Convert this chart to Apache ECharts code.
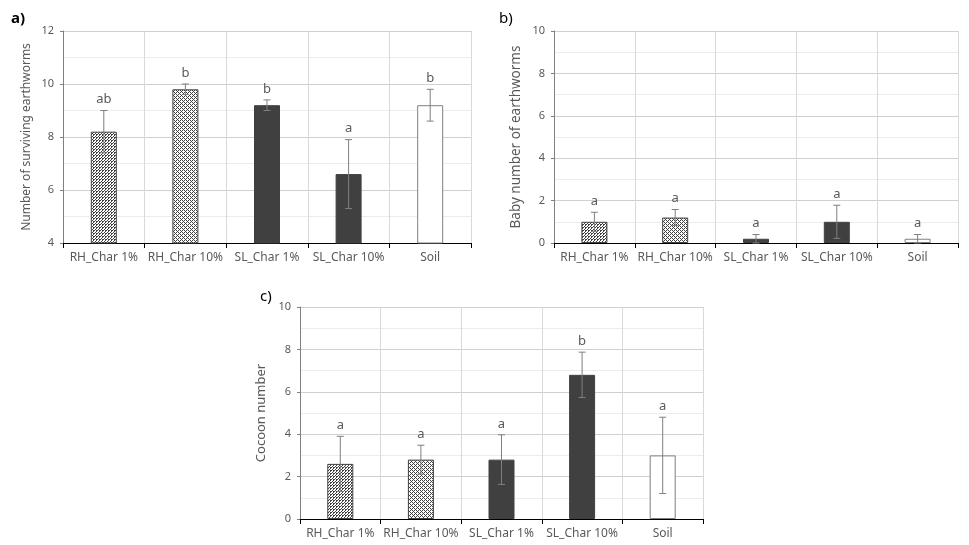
<!DOCTYPE html>
<html>
<head>
<meta charset="utf-8">
<script src="https://cdn.jsdelivr.net/npm/echarts@6/dist/echarts.min.js"></script>
<style>html,body{margin:0;padding:0;background:#fff;}#c{width:969px;height:545px;}</style>
</head>
<body>
<div id="c"></div>
<script>
const categories = ['RH_Char 1%', 'RH_Char 10%', 'SL_Char 1%', 'SL_Char 10%', 'Soil'];

const survMean = [8.2, 9.8, 9.2, 6.6, 9.2];
const survErr = [0.8, 0.2, 0.2, 1.3, 0.6];
const survLetters = ['ab', 'b', 'b', 'a', 'b'];

const babyMean = [1.0, 1.2, 0.2, 1.0, 0.2];
const babyErr = [0.45, 0.38, 0.2, 0.78, 0.2];
const babyLetters = ['a', 'a', 'a', 'a', 'a'];

const cocoonMean = [2.6, 2.8, 2.8, 6.8, 3.0];
const cocoonErr = [1.3, 0.68, 1.17, 1.07, 1.8];
const cocoonLetters = ['a', 'a', 'a', 'b', 'a'];

const survTicks = { min: 4, max: 12, interval: 2 };
const countTicks = { min: 0, max: 10, interval: 2 };

function makePattern(step) {
  const cv = document.createElement('canvas');
  cv.width = step; cv.height = step;
  const ctx = cv.getContext('2d');
  ctx.fillStyle = '#ffffff';
  ctx.fillRect(0, 0, step, step);
  ctx.fillStyle = '#404040';
  for (let x = 0; x < step; x++) {
    for (let y = 0; y < step; y++) {
      if ((x + y) % step === 0) ctx.fillRect(x, y, 1, 1);
      if ((x - y + step) % step === Math.floor(step / 2) && (x % 2 === 0)) ctx.fillRect(x, y, 1, 1);
    }
  }
  return cv;
}
const pat1 = makePattern(3);
const pat10 = makePattern(4);

const FONT = 'Noto Sans';
const grids = [
  { left: 63, top: 31, width: 408, height: 212 },
  { left: 554, top: 31, width: 404, height: 212 },
  { left: 300, top: 307, width: 403, height: 212 }
];

function barStyles(i) {
  if (i === 0) return { color: { image: pat1, repeat: 'repeat' }, borderColor: '#404040', borderWidth: 1 };
  if (i === 1) return { color: { image: pat10, repeat: 'repeat' }, borderColor: '#404040', borderWidth: 1 };
  if (i === 2 || i === 3) return { color: '#404040', borderColor: '#404040', borderWidth: 1 };
  return { color: '#ffffff', borderColor: '#7f7f7f', borderWidth: 1 };
}

function xAxisFor(g) {
  return {
    type: 'category', gridIndex: g, data: categories,
    axisLine: { lineStyle: { color: '#000', width: 1 } },
    axisTick: { show: true, length: 5, lineStyle: { color: '#000' } },
    axisLabel: { color: '#595959', fontSize: 12, fontFamily: FONT, margin: 9, interval: 0 },
    splitLine: { show: true, lineStyle: { color: '#d9d9d9', width: 1 } }
  };
}
function yAxisFor(g, ticks, name, nameSize, nameGap) {
  return {
    type: 'value', gridIndex: g, min: ticks.min, max: ticks.max, interval: ticks.interval,
    name: name, nameLocation: 'middle', nameGap: nameGap,
    nameTextStyle: { color: '#595959', fontSize: nameSize, fontFamily: FONT },
    axisLine: { show: true, lineStyle: { color: '#808080' } },
    axisTick: { show: true, length: 3, lineStyle: { color: '#808080' } },
    axisLabel: { color: '#595959', fontSize: 11, fontFamily: FONT, margin: 9 },
    splitLine: { show: true, lineStyle: { color: '#d0d0d0' } },
    minorTick: { show: false, splitNumber: 2 },
    minorSplitLine: { show: true, lineStyle: { color: '#ececec' } }
  };
}

function barSeries(g, means) {
  return {
    type: 'bar', xAxisIndex: g, yAxisIndex: g, barWidth: 26, clip: true,
    data: means.map((v, i) => ({ value: v, itemStyle: barStyles(i) })),
    z: 2
  };
}
function errSeries(g, means, errs, letters) {
  return {
    type: 'custom', xAxisIndex: g, yAxisIndex: g, z: 5,
    data: means.map((m, i) => [i, m, errs[i]]),
    renderItem: function (params, api) {
      const x = api.value(0), m = api.value(1), e = api.value(2);
      const top = api.coord([x, m + e]);
      const bot = api.coord([x, m - e]);
      const hw = 3.5;
      const st = { stroke: '#7f7f7f', lineWidth: 1 };
      return {
        type: 'group',
        children: [
          { type: 'line', shape: { x1: top[0], y1: top[1], x2: bot[0], y2: bot[1] }, style: st },
          { type: 'line', shape: { x1: top[0] - hw, y1: top[1], x2: top[0] + hw, y2: top[1] }, style: st },
          { type: 'line', shape: { x1: bot[0] - hw, y1: bot[1], x2: bot[0] + hw, y2: bot[1] }, style: st },
          { type: 'text', style: { text: letters[params.dataIndex], x: top[0], y: top[1] - 11, align: 'center', verticalAlign: 'middle', fill: '#595959', font: '13px "' + FONT + '"' } }
        ]
      };
    }
  };
}

const chart = echarts.init(document.getElementById('c'), null, { renderer: 'canvas' });
chart.setOption({
  animation: false,
  backgroundColor: '#ffffff',
  title: [
    { text: 'a)', left: 6, top: 6, textStyle: { fontSize: 15, fontWeight: 'bold', color: '#000', fontFamily: FONT } },
    { text: 'b)', left: 494, top: 6, textStyle: { fontSize: 15, fontWeight: 'normal', color: '#000', fontFamily: FONT } },
    { text: 'c)', left: 255, top: 284, textStyle: { fontSize: 15, fontWeight: 'normal', color: '#000', fontFamily: FONT } }
  ],
  grid: grids,
  xAxis: [xAxisFor(0), xAxisFor(1), xAxisFor(2)],
  yAxis: [
    yAxisFor(0, survTicks, 'Number of surviving earthworms', 12, 30),
    yAxisFor(1, countTicks, 'Baby number of earthworms', 13.5, 31),
    yAxisFor(2, countTicks, 'Cocoon number', 13, 32)
  ],
  series: [
    barSeries(0, survMean), errSeries(0, survMean, survErr, survLetters),
    barSeries(1, babyMean), errSeries(1, babyMean, babyErr, babyLetters),
    barSeries(2, cocoonMean), errSeries(2, cocoonMean, cocoonErr, cocoonLetters)
  ]
});
</script>
</body>
</html>
